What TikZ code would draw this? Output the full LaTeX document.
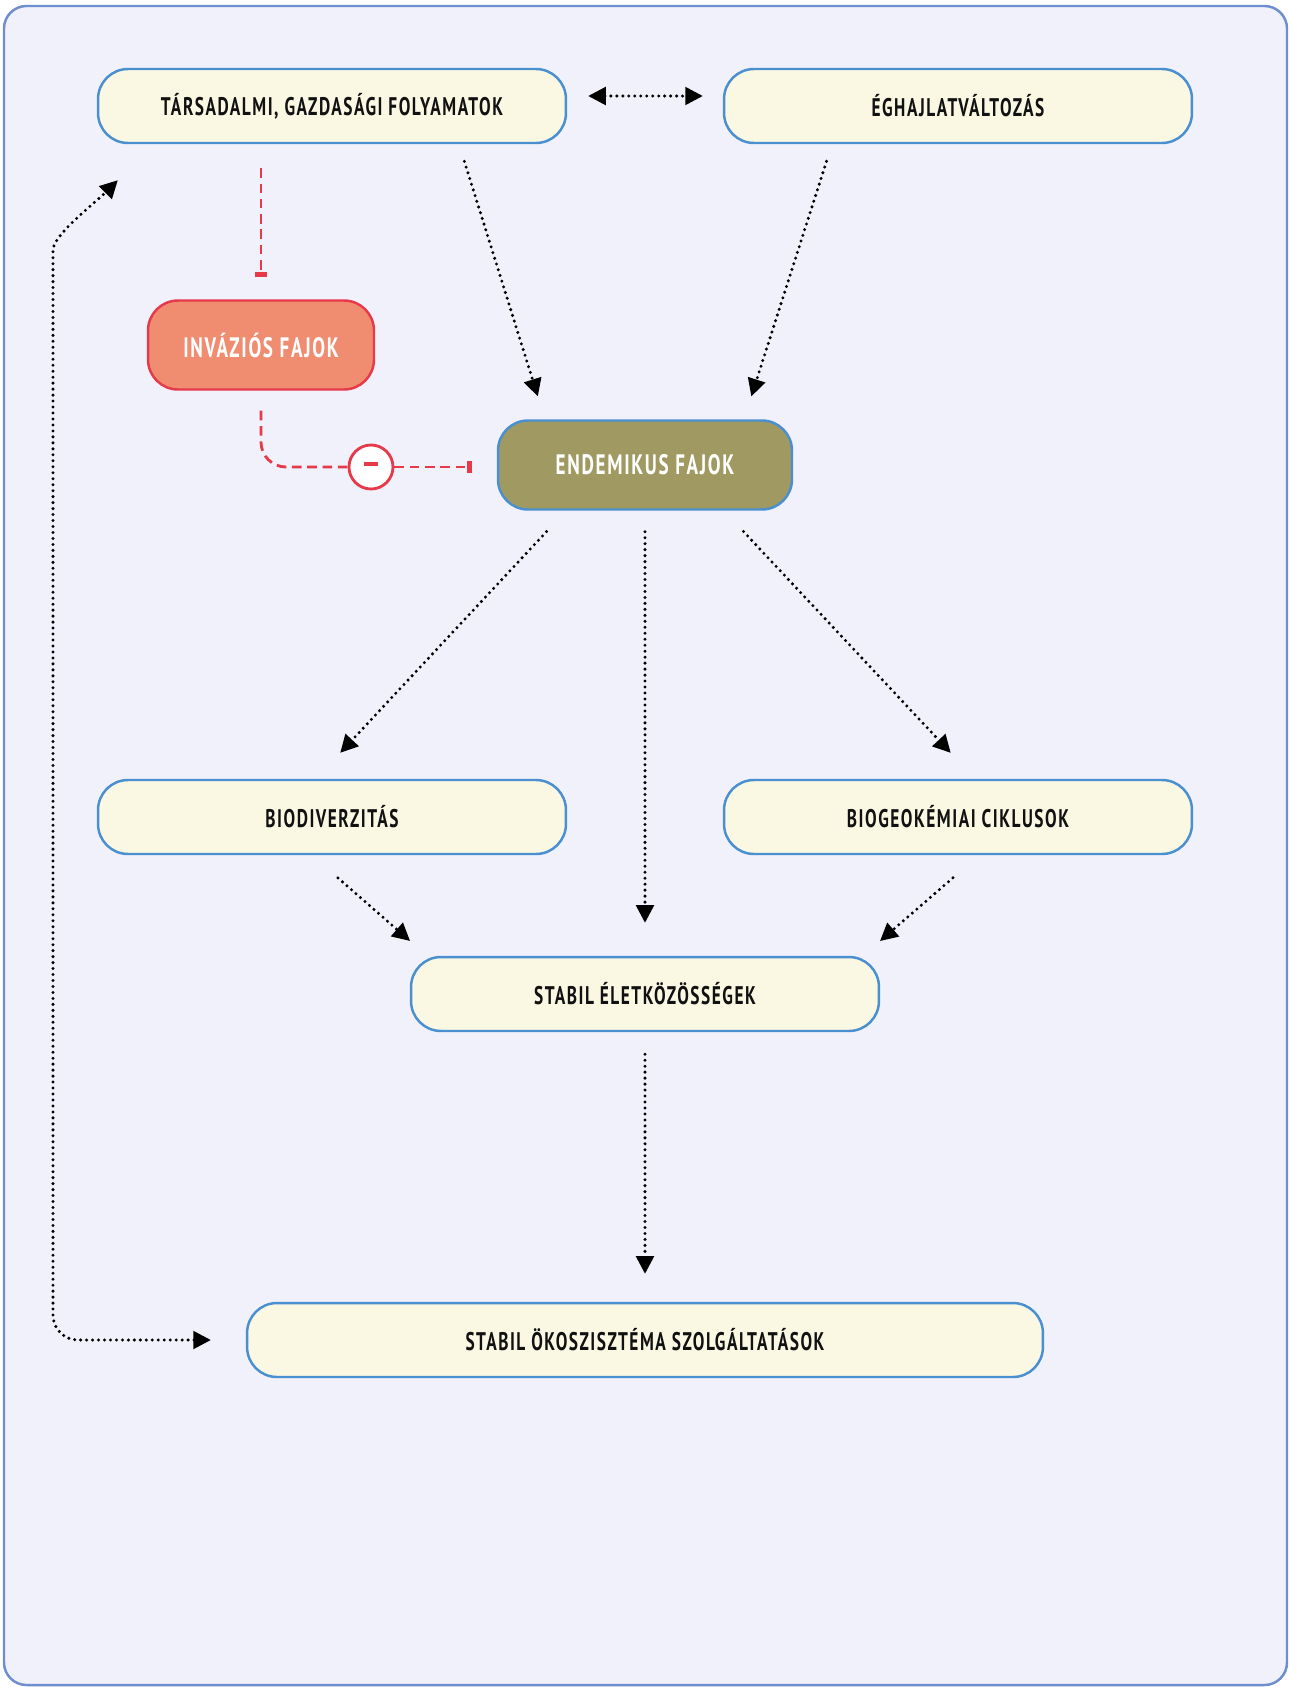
\documentclass[tikz,border=0pt]{standalone}
\usepackage{fontspec}
\setmainfont{PT Sans}[FakeStretch=0.68,LetterSpace=6]
\usetikzlibrary{arrows.meta,calc}
\definecolor{frame}{HTML}{6E8ECF}
\definecolor{paper}{HTML}{F0F1FA}
\definecolor{cream}{HTML}{FAF8E3}
\definecolor{edge}{HTML}{4A8FCF}
\definecolor{alien}{HTML}{F08C70}
\definecolor{alienline}{HTML}{E63A4B}
\definecolor{native}{HTML}{A09A62}
\definecolor{ink}{HTML}{111111}

\begin{document}
\begin{tikzpicture}[x=0.02cm,y=-0.02cm,font=\fontsize{14.5}{17}\selectfont\bfseries,
  box/.style={draw=edge,fill=cream,text=ink,line width=1.4pt,rounded corners=0.6cm,
    minimum width=9.36cm,minimum height=1.48cm,inner sep=0pt},
  bigbox/.style={box,text=white,minimum height=1.78cm,font=\fontsize{16}{19}\selectfont\bfseries},
  dotarrow/.style={black,line width=1.9pt,dash pattern=on 0pt off 3.4pt,line cap=round,
    -{Triangle[length=10pt,width=10pt]}},
  dotboth/.style={dotarrow,{Triangle[length=10pt,width=10pt]}-{Triangle[length=10pt,width=10pt]}},
  redline/.style={alienline,line width=1.6pt,dash pattern=on 5.5pt off 3.2pt},
  redbar/.style={-{Bar[width=7pt,line width=2.8pt]}},
  minus/.style={circle,draw=alienline,fill=white,text=alienline,line width=1.6pt,
    minimum size=0.88cm,inner sep=0pt}]
\useasboundingbox (0,0) rectangle (1290,1687);
\draw[frame,fill=paper,line width=1.4pt,rounded corners=0.45cm] (4,6) rectangle (1287,1685);

% nodes
\node[box] (tars) at (332,106) {TÁRSADALMI, GAZDASÁGI FOLYAMATOK};
\node[box] (egh) at (958,106) {ÉGHAJLATVÁLTOZÁS};
\node[bigbox,draw=alienline,fill=alien,minimum width=4.52cm] (invaz) at (261,345) {INVÁZIÓS FAJOK};
\node[bigbox,fill=native,minimum width=5.88cm] (endem) at (645,465) {ENDEMIKUS FAJOK};
\node[box] (bio) at (332,817) {BIODIVERZITÁS};
\node[box] (biogeo) at (958,817) {BIOGEOKÉMIAI CIKLUSOK};
\node[box] (stab) at (645,994) {STABIL ÉLETKÖZÖSSÉGEK};
\node[box,minimum width=15.92cm] (eco) at (645,1340) {STABIL ÖKOSZISZTÉMA SZOLGÁLTATÁSOK};
\node[minus] (minus) at ($(invaz.south |- endem.west)+(110,2)$) {\rule[3pt]{8.5pt}{2.2pt}};
\coordinate (back) at ($(tars.south west)+(21,36)$);

% links
\draw[dotboth] ($(tars.east)+(21,-10)$) -- ($(egh.west)+(-20,-10)$);
\draw[redline,redbar,shorten <=0.48cm,shorten >=0.44cm] (invaz.north |- tars.south) -- (invaz.north);
\draw[redline,rounded corners=0.5cm,shorten <=0.4cm] (invaz.south) |- (minus.west);
\draw[redline,redbar,shorten >=0.5cm] (minus.east) -- (minus.east -| endem.west);
\draw[dotarrow,shorten <=0.36cm,shorten >=0.48cm] ($(tars.south)+(127,0)$) -- ($(endem.north)+(-100,0)$);
\draw[dotarrow,shorten <=0.36cm,shorten >=0.48cm] ($(egh.south)+(-126,0)$) -- ($(endem.north)+(99,0)$);
\draw[dotarrow,shorten <=0.57cm,shorten >=0.71cm] ($(endem.south)+(-79,0)$) -- ($(bio.north)+(-16,0)$);
\draw[dotarrow,shorten <=0.42cm,shorten >=0.66cm] (endem.south) -- (stab.north);
\draw[dotarrow,shorten <=0.57cm,shorten >=0.71cm] ($(endem.south)+(79,0)$) -- ($(biogeo.north)+(17,0)$);
\draw[dotarrow,shorten <=0.69cm,shorten >=0.45cm] ($(bio.south)+(-20,0)$) -- ($(stab.north)+(-218,0)$);
\draw[dotarrow,shorten <=0.69cm,shorten >=0.45cm] ($(biogeo.south)+(21,0)$) -- ($(stab.north)+(218,0)$);
\draw[dotarrow,shorten <=0.44cm,shorten >=0.56cm] (stab.south) -- (eco.north);
\draw[dotboth,shorten <=0.7cm,rounded corners=0.5cm] (eco.west) -- (53,1340) -- (53,275)
  [sharp corners] .. controls (53,235) and ($(back)+(-21,21)$) .. (back);
\end{tikzpicture}
\end{document}
